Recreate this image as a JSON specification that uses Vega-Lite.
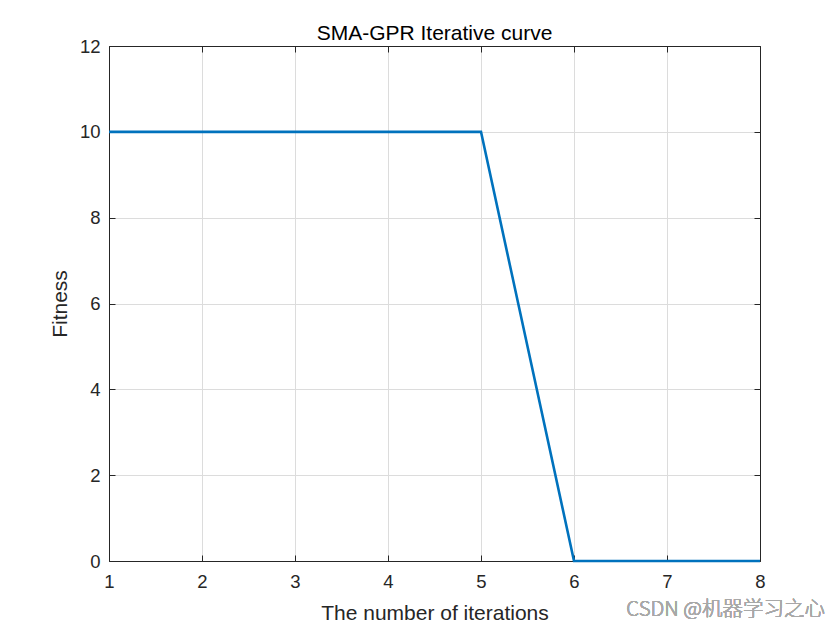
{
  "$schema": "https://vega.github.io/schema/vega-lite/v6.json",
  "autosize": {"type": "none"},
  "padding": {"left": 109, "top": 46, "right": 80, "bottom": 69},
  "width": 651,
  "height": 515,
  "background": "white",
  "config": {
    "font": "Liberation Sans",
    "view": {"stroke": "#262626", "strokeWidth": 1},
    "axis": {
      "labelFont": "Liberation Sans",
      "titleFont": "Liberation Sans",
      "labelFontSize": 18.5,
      "labelColor": "#262626",
      "titleFontSize": 21,
      "titleFontWeight": "normal",
      "titleColor": "#262626",
      "domainColor": "#262626",
      "tickColor": "#262626",
      "gridColor": "#dcdcdc",
      "gridWidth": 1,
      "tickSize": -6,
      "labelFlush": false,
      "labelOverlap": false
    }
  },
  "title": {"text": "SMA-GPR Iterative curve", "fontSize": 21, "fontWeight": "normal", "font": "Liberation Sans", "color": "#000000", "offset": -7},
  "data": {"values": [
    {"iter": 1, "fitness": 10},
    {"iter": 2, "fitness": 10},
    {"iter": 3, "fitness": 10},
    {"iter": 4, "fitness": 10},
    {"iter": 5, "fitness": 10},
    {"iter": 6, "fitness": 0},
    {"iter": 7, "fitness": 0},
    {"iter": 8, "fitness": 0}
  ]},
  "layer": [
    {
      "mark": {"type": "line", "color": "#0072BD", "strokeWidth": 2.6},
      "encoding": {
        "x": {"field": "iter", "type": "quantitative", "scale": {"domain": [1, 8], "nice": false, "zero": false},
              "axis": {"title": "The number of iterations", "values": [1,2,3,4,5,6,7,8], "format": "d", "labelPadding": 17, "titlePadding": 12, "grid": true}},
        "y": {"field": "fitness", "type": "quantitative", "scale": {"domain": [0, 12], "nice": false},
              "axis": {"title": "Fitness", "values": [0,2,4,6,8,10,12], "labelPadding": 15, "titlePadding": 9, "grid": true}}
      }
    },
    {
      "mark": {"type": "line", "opacity": 0},
      "encoding": {
        "x": {"field": "iter", "type": "quantitative", "scale": {"domain": [1, 8], "nice": false, "zero": false},
              "axis": {"orient": "top", "title": null, "labels": false, "grid": false, "values": [1,2,3,4,5,6,7,8]}},
        "y": {"field": "fitness", "type": "quantitative", "scale": {"domain": [0, 12], "nice": false},
              "axis": {"orient": "right", "title": null, "labels": false, "grid": false, "values": [0,2,4,6,8,10,12]}}
      }
    },
    {
      "mark": {"type": "text", "text": "CSDN @机器学习之心", "align": "right", "baseline": "middle", "dy": 49, "dx": 65, "fontSize": 20.5, "fontWeight": 300, "color": "#a8a8a8", "font": "Noto Sans CJK SC"},
      "encoding": {
        "x": {"datum": 8, "type": "quantitative", "axis": null},
        "y": {"datum": 0, "type": "quantitative", "axis": null}
      }
    }
  ],
  "resolve": {"axis": {"x": "independent", "y": "independent"}}
}
